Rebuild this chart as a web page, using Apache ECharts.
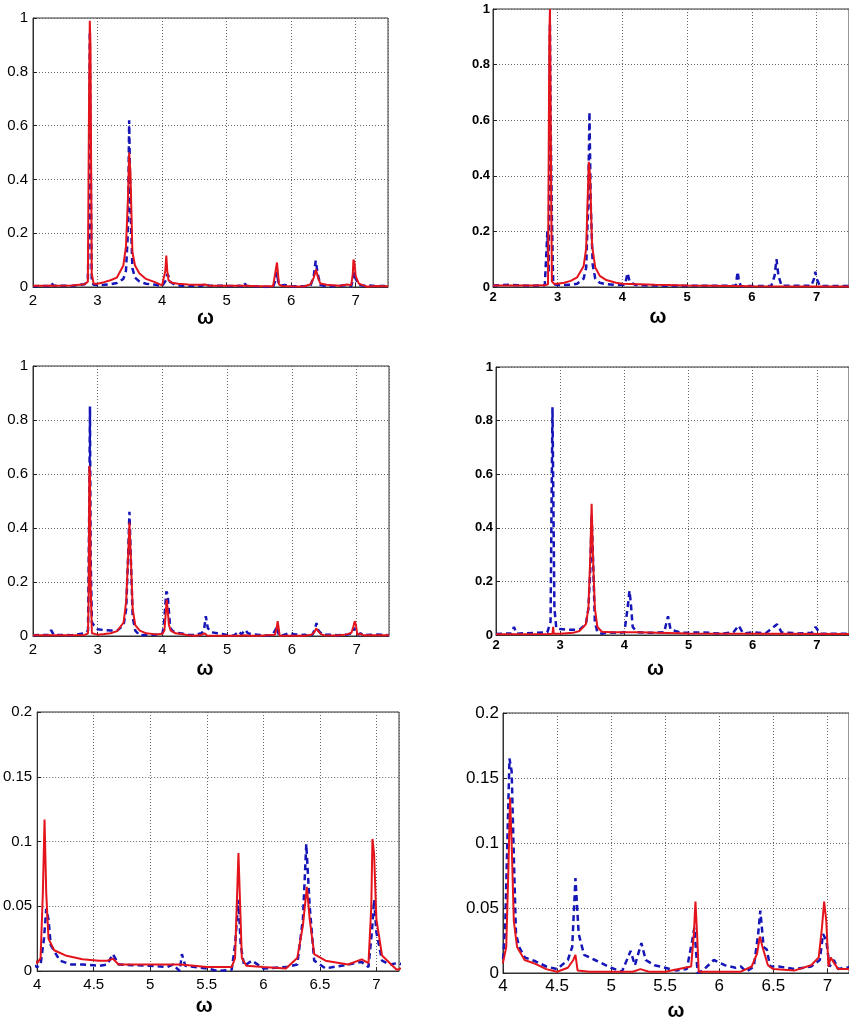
<!DOCTYPE html>
<html>
<head>
<meta charset="utf-8">
<script src="https://cdn.jsdelivr.net/npm/echarts@6/dist/echarts.min.js"></script>
<style>
  html, body { margin: 0; padding: 0; background: #fff; }
  #chart { width: 849px; height: 1023px; }
</style>
</head>
<body>
<div id="chart"></div>
<script>
// panel 1 (and its zoom, panel 5)
const redA = [[2.0,0.005],[2.24,0.005],[2.28,0.006],[2.32,0.005],[2.6,0.006],[2.8,0.01],[2.85,0.02],[2.87,0.75],[2.88,0.99],[2.89,0.9],[2.91,0.05],[2.94,0.012],[3.0,0.012],[3.1,0.018],[3.2,0.025],[3.3,0.035],[3.4,0.08],[3.44,0.15],[3.47,0.32],[3.49,0.5],[3.51,0.42],[3.54,0.13],[3.58,0.08],[3.65,0.05],[3.75,0.03],[3.9,0.017],[4.0,0.006],[4.03,0.01],[4.05,0.06],[4.065,0.117],[4.08,0.06],[4.1,0.025],[4.15,0.016],[4.25,0.012],[4.4,0.009],[4.55,0.008],[4.62,0.008],[4.67,0.0095],[4.72,0.005],[5.0,0.005],[5.27,0.005],[5.5,0.003],[5.72,0.003],[5.75,0.01],[5.78,0.091],[5.81,0.01],[5.85,0.004],[6.0,0.003],[6.2,0.002],[6.3,0.01],[6.35,0.035],[6.385,0.065],[6.41,0.04],[6.45,0.013],[6.55,0.008],[6.75,0.005],[6.87,0.009],[6.93,0.006],[6.955,0.05],[6.965,0.102],[6.98,0.09],[7.0,0.04],[7.05,0.012],[7.12,0.006],[7.18,0.001],[7.3,0.004],[7.5,0.003]];
const blueA = [[2.0,0.003],[2.24,0.004],[2.28,0.015],[2.32,0.005],[2.6,0.004],[2.8,0.01],[2.85,0.03],[2.87,0.26],[2.88,0.95],[2.89,0.6],[2.91,0.02],[2.94,0.008],[3.0,0.007],[3.1,0.008],[3.2,0.01],[3.3,0.015],[3.4,0.03],[3.44,0.06],[3.47,0.2],[3.49,0.62],[3.51,0.3],[3.54,0.07],[3.58,0.035],[3.65,0.02],[3.75,0.012],[3.9,0.008],[4.0,0.003],[4.03,0.005],[4.06,0.025],[4.08,0.048],[4.1,0.04],[4.12,0.02],[4.2,0.008],[4.3,0.005],[4.4,0.005],[4.55,0.004],[4.62,0.005],[4.67,0.013],[4.72,0.005],[5.0,0.004],[5.15,0.003],[5.2,0.005],[5.26,0.0],[5.28,0.013],[5.31,0.004],[5.5,0.002],[5.6,0.0],[5.72,0.001],[5.75,0.02],[5.78,0.055],[5.8,0.02],[5.83,0.004],[5.9,0.008],[6.0,0.002],[6.2,0.003],[6.3,0.005],[6.35,0.04],[6.38,0.098],[6.41,0.05],[6.45,0.008],[6.55,0.002],[6.75,0.005],[6.87,0.007],[6.93,0.003],[6.96,0.03],[6.98,0.055],[7.0,0.03],[7.05,0.008],[7.12,0.005],[7.18,0.006],[7.3,0.004],[7.5,0.004]];

// panel 2
const redB = [[2.0,0.005],[2.6,0.005],[2.8,0.006],[2.85,0.01],[2.87,0.9],[2.88,1.0],[2.89,1.0],[2.9,0.3],[2.91,0.02],[2.94,0.012],[3.0,0.012],[3.1,0.015],[3.2,0.022],[3.3,0.035],[3.4,0.075],[3.44,0.14],[3.46,0.3],[3.48,0.45],[3.5,0.4],[3.53,0.15],[3.58,0.07],[3.65,0.04],[3.75,0.025],[3.9,0.015],[4.0,0.012],[4.5,0.008],[5.0,0.005],[6.0,0.003],[7.0,0.002],[7.5,0.002]];
const blueB = [[2.0,0.005],[2.26,0.008],[2.6,0.004],[2.8,0.006],[2.84,0.2],[2.86,0.05],[2.87,0.5],[2.88,0.95],[2.89,0.6],[2.91,0.25],[2.93,0.01],[3.0,0.007],[3.1,0.007],[3.2,0.008],[3.3,0.012],[3.4,0.03],[3.44,0.07],[3.47,0.3],[3.49,0.63],[3.51,0.3],[3.54,0.08],[3.58,0.03],[3.65,0.015],[3.75,0.01],[3.9,0.007],[4.02,0.008],[4.05,0.02],[4.08,0.05],[4.11,0.02],[4.2,0.007],[4.5,0.005],[5.0,0.004],[5.75,0.005],[5.78,0.055],[5.8,0.02],[5.83,0.003],[6.3,0.004],[6.35,0.04],[6.38,0.1],[6.41,0.04],[6.46,0.004],[6.92,0.005],[6.96,0.03],[6.98,0.055],[7.0,0.03],[7.05,0.004],[7.5,0.004]];

// panel 3 (and its zoom, panel 6)
const redC = [[2.0,0.003],[2.28,0.003],[2.6,0.003],[2.8,0.004],[2.85,0.01],[2.86,0.15],[2.87,0.63],[2.88,0.6],[2.89,0.2],[2.91,0.01],[2.94,0.005],[3.0,0.005],[3.1,0.007],[3.2,0.01],[3.3,0.018],[3.4,0.05],[3.44,0.13],[3.47,0.3],[3.49,0.42],[3.51,0.3],[3.54,0.1],[3.58,0.04],[3.65,0.02],[3.75,0.01],[3.9,0.006],[4.0,0.008],[4.03,0.02],[4.05,0.08],[4.065,0.135],[4.08,0.1],[4.1,0.04],[4.13,0.02],[4.2,0.01],[4.3,0.007],[4.4,0.003],[4.5,0.001],[4.6,0.004],[4.65,0.01],[4.67,0.014],[4.69,0.002],[4.8,0.001],[5.0,0.001],[5.2,0.001],[5.27,0.003],[5.35,0.001],[5.5,0.001],[5.74,0.005],[5.765,0.03],[5.78,0.055],[5.795,0.03],[5.81,0.001],[6.0,0.001],[6.2,0.001],[6.3,0.005],[6.35,0.015],[6.375,0.028],[6.4,0.02],[6.45,0.006],[6.5,0.003],[6.7,0.002],[6.85,0.006],[6.92,0.012],[6.95,0.035],[6.97,0.055],[6.99,0.04],[7.01,0.005],[7.03,0.012],[7.06,0.008],[7.1,0.003],[7.3,0.003],[7.5,0.003]];
const blueC = [[2.0,0.003],[2.24,0.004],[2.28,0.022],[2.32,0.004],[2.6,0.003],[2.8,0.01],[2.85,0.02],[2.87,0.5],[2.88,0.85],[2.89,0.3],[2.91,0.05],[2.94,0.04],[3.0,0.025],[3.1,0.022],[3.2,0.02],[3.3,0.02],[3.4,0.04],[3.44,0.1],[3.47,0.3],[3.49,0.46],[3.51,0.3],[3.54,0.07],[3.58,0.02],[3.65,0.002],[3.75,0.005],[3.9,0.005],[4.0,0.01],[4.02,0.035],[4.04,0.1],[4.06,0.165],[4.08,0.155],[4.1,0.09],[4.12,0.03],[4.15,0.02],[4.2,0.012],[4.3,0.009],[4.4,0.005],[4.5,0.003],[4.6,0.01],[4.64,0.02],[4.67,0.073],[4.7,0.03],[4.75,0.014],[4.85,0.01],[5.0,0.004],[5.1,0.001],[5.18,0.017],[5.22,0.006],[5.28,0.023],[5.32,0.01],[5.4,0.006],[5.5,0.004],[5.6,0.002],[5.7,0.003],[5.75,0.025],[5.77,0.035],[5.8,0.0],[5.85,0.002],[5.95,0.01],[6.05,0.006],[6.15,0.004],[6.2,0.005],[6.25,0.001],[6.32,0.005],[6.36,0.03],[6.38,0.048],[6.41,0.02],[6.44,0.018],[6.47,0.005],[6.55,0.005],[6.7,0.003],[6.85,0.005],[6.93,0.01],[6.96,0.03],[6.99,0.025],[7.02,0.005],[7.06,0.01],[7.1,0.003],[7.3,0.006],[7.5,0.003]];

// panel 4
const redD = [[2.0,0.003],[2.8,0.004],[2.88,0.005],[2.89,0.03],[2.9,0.005],[3.0,0.005],[3.2,0.008],[3.3,0.015],[3.4,0.04],[3.44,0.1],[3.47,0.3],[3.49,0.49],[3.51,0.3],[3.54,0.1],[3.58,0.03],[3.65,0.012],[3.8,0.01],[4.2,0.01],[5.0,0.006],[7.5,0.004]];
const blueD = [[2.0,0.004],[2.24,0.006],[2.28,0.03],[2.32,0.005],[2.6,0.008],[2.8,0.01],[2.85,0.05],[2.87,0.6],[2.88,0.85],[2.89,0.6],[2.91,0.1],[2.94,0.025],[3.0,0.022],[3.1,0.02],[3.2,0.02],[3.3,0.02],[3.4,0.04],[3.44,0.1],[3.47,0.25],[3.49,0.45],[3.51,0.3],[3.54,0.05],[3.58,0.01],[3.65,0.005],[3.75,0.01],[3.9,0.008],[4.0,0.01],[4.05,0.1],[4.08,0.165],[4.1,0.12],[4.13,0.03],[4.2,0.01],[4.4,0.008],[4.62,0.01],[4.68,0.07],[4.72,0.02],[4.9,0.008],[5.2,0.01],[5.5,0.005],[5.7,0.01],[5.78,0.035],[5.85,0.006],[6.0,0.01],[6.2,0.006],[6.38,0.04],[6.45,0.01],[6.7,0.006],[6.92,0.008],[6.98,0.03],[7.05,0.005],[7.5,0.005]];

// axis windows per panel: [xmin, xmax, xstep, ymax, ystep]
const ranges = [
  [2, 7.5, 1, 1, 0.2],
  [2, 7.5, 1, 1, 0.2],
  [2, 7.5, 1, 1, 0.2],
  [2, 7.5, 1, 1, 0.2],
  [4, 7.2, 0.5, 0.2, 0.05],
  [4, 7.2, 0.5, 0.2, 0.05]
];
const panelData = [[redA, blueA], [redB, blueB], [redC, blueC], [redD, blueD], [redA, blueA], [redC, blueC]];

const grids = [
  {left: 33, top: 18, width: 355, height: 269},
  {left: 493, top: 9, width: 374, height: 278},
  {left: 33, top: 366, width: 356, height: 270},
  {left: 496, top: 367, width: 376, height: 268},
  {left: 35, top: 712, width: 364, height: 259},
  {left: 503, top: 713, width: 349, height: 260}
];
const labelStyle = [
  {fontSize: 15, fontWeight: 'normal', family: 'Liberation Sans, Arial, sans-serif', margin: 5},
  {fontSize: 13, fontWeight: 'bold', family: 'Liberation Sans, Arial, sans-serif', margin: 3},
  {fontSize: 15, fontWeight: 'normal', family: 'Liberation Sans, Arial, sans-serif', margin: 5},
  {fontSize: 13, fontWeight: 'bold', family: 'Liberation Sans, Arial, sans-serif', margin: 3},
  {fontSize: 15, fontWeight: 'normal', family: 'Liberation Sans Narrow, Liberation Sans, sans-serif', margin: 5},
  {fontSize: 17, fontWeight: 'normal', family: 'Liberation Sans, Arial, sans-serif', margin: 4}
];
const nameGaps = [21, 20, 23, 24, 25, 28];
const nameShift = [10, 26, 12, 34, 28, 0];

const gridLine = {show: true, lineStyle: {color: '#666', width: 1, type: [1, 2]}};
const tick = {show: true, inside: true, length: 4, lineStyle: {color: '#222'}};

let myChart = echarts.init(document.getElementById('chart'));
myChart.setOption({
  animation: false,
  backgroundColor: '#fff',
  grid: grids.map(g => Object.assign({show: true, borderColor: '#333', borderWidth: 1, backgroundColor: 'transparent'}, g)),
  xAxis: ranges.map((r, i) => ({
    type: 'value',
    gridIndex: i,
    min: r[0],
    max: r[1],
    interval: r[2],
    name: 'ω',
    nameLocation: 'middle',
    nameGap: nameGaps[i],
    nameTextStyle: {fontSize: 20, fontWeight: 'bold', color: '#000', fontFamily: 'Liberation Sans, Arial, sans-serif', padding: [0, nameShift[i], 0, 0]},
    axisLine: {show: true, lineStyle: {color: '#333'}},
    axisTick: tick,
    splitLine: gridLine,
    axisLabel: {
      color: '#000',
      fontSize: labelStyle[i].fontSize,
      fontWeight: labelStyle[i].fontWeight,
      fontFamily: labelStyle[i].family,
      margin: labelStyle[i].margin + 1,
      showMaxLabel: false
    }
  })),
  yAxis: ranges.map((r, i) => ({
    type: 'value',
    gridIndex: i,
    min: 0,
    max: r[3],
    interval: r[4],
    axisLine: {show: true, lineStyle: {color: '#333'}},
    axisTick: tick,
    splitLine: gridLine,
    axisLabel: {
      color: '#000',
      fontSize: labelStyle[i].fontSize,
      fontWeight: labelStyle[i].fontWeight,
      fontFamily: labelStyle[i].family,
      margin: labelStyle[i].margin
    }
  })),
  series: panelData.flatMap((pair, i) => [
    {
      type: 'line',
      xAxisIndex: i,
      yAxisIndex: i,
      data: pair[1],
      showSymbol: false,
      clip: true,
      lineStyle: {color: '#1515b8', width: 2.5, type: [6, 4]}
    },
    {
      type: 'line',
      xAxisIndex: i,
      yAxisIndex: i,
      data: pair[0],
      showSymbol: false,
      clip: true,
      lineStyle: {color: '#e3141b', width: 2}
    }
  ])
});
</script>
</body>
</html>
